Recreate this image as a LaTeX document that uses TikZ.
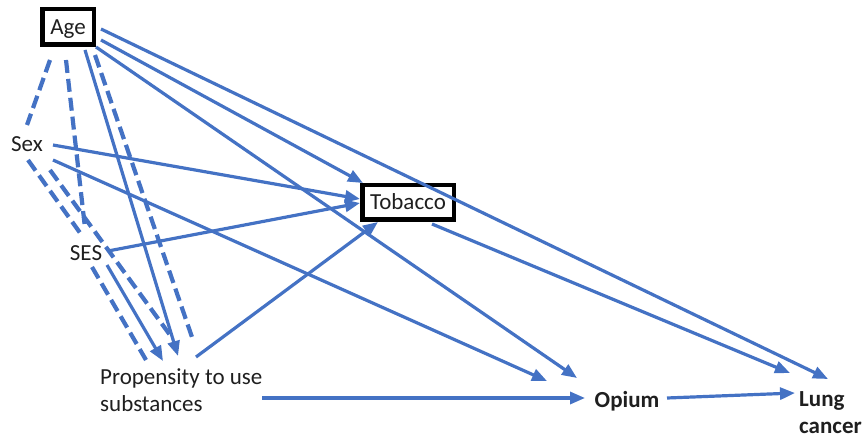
\documentclass[tikz,border=0pt]{standalone}
\usepackage{fontspec}
\setmainfont{Carlito}
\usetikzlibrary{arrows.meta}
\definecolor{linkblue}{HTML}{4472C4}
\definecolor{inktext}{HTML}{1F1F1F}
\begin{document}
\begin{tikzpicture}[x=1pt,y=-1pt,
  lbl/.style={inner sep=0pt, text=inktext, font=\fontsize{23}{27}\selectfont},
  boldlbl/.style={lbl, font=\fontsize{23}{27}\selectfont\bfseries},
  framed/.style={lbl, draw=black, line width=4.5pt, text height=15pt, text depth=0pt},
  cause/.style={draw=linkblue, line width=3.2pt, -{Triangle[length=15pt,width=12pt]}},
  assoc/.style={draw=linkblue, line width=4.2pt, dash pattern=on 13pt off 6pt}]
\useasboundingbox (0,0) rectangle (866,438);

% variables
\node[framed, minimum width=51.5pt, minimum height=35.5pt] (age) at (68,27) {Age};
\node[framed, minimum width=91.5pt, minimum height=34.5pt] (tob) at (408,202.5) {Tobacco};
\node[lbl, anchor=base] (sex) at (27,152) {Sex};
\node[lbl, anchor=base] (ses) at (86,260) {SES};
\node[lbl, anchor=north west, align=left] (prop) at (100,368) {Propensity to use\\substances};
\node[boldlbl, anchor=base] (opium) at (627,407) {Opium};
\node[boldlbl, anchor=north west, align=left] (lung) at (799,391) {Lung\\cancer};

% associations between confounders (dashed, undirected)
\draw[assoc] ([shift={(-18,33)}]age.center) -- ([shift={(0,-27)}]sex.base);
\draw[assoc] ([shift={(-2,33)}]age.center) -- ([shift={(-1,-32)}]ses.base);
\draw[assoc] ([shift={(1,8)}]sex.base) -- ([shift={(-3,-23)}]ses.base);
\draw[assoc] ([shift={(23,18)}]sex.base) -- ([shift={(70,-33)}]prop.north west);
\draw[assoc] ([shift={(6,7)}]ses.base) -- ([shift={(46,-8)}]prop.north west);
\draw[assoc] ([shift={(27,28)}]age.center) -- ([shift={(93,-28)}]prop.north west);

% causal paths
\draw[cause] ([shift={(17,23)}]age.center) -- ([shift={(78,-12)}]prop.north west);
\draw[cause] ([shift={(21,5)}]ses.base) -- ([shift={(63,-7)}]prop.north west);
\draw[cause] ([shift={(33,13)}]age.center) -- ([shift={(-45,-19.5)}]tob.center);
\draw[cause] ([shift={(28,20)}]age.center) -- ([shift={(-50,-29)}]opium.base);
\draw[cause] ([shift={(33,2)}]age.center) -- ([shift={(29,-12)}]lung.north west);
\draw[cause] ([shift={(26,-7)}]sex.base) -- ([shift={(-48,-3.5)}]tob.center);
\draw[cause] ([shift={(26,8)}]sex.base) -- ([shift={(-80,-26)}]opium.base);
\draw[cause] ([shift={(22,-9)}]ses.base) -- ([shift={(-48,0.5)}]tob.center);
\draw[cause] ([shift={(96,-11)}]prop.north west) -- ([shift={(-30,19.5)}]tob.center);
\draw[cause] ([shift={(162,30)}]prop.north west) -- ([shift={(-42,-9)}]opium.base);
\draw[cause] ([shift={(40,-9)}]opium.base) -- ([shift={(-4,2)}]lung.north west);
\draw[cause] ([shift={(24,21.5)}]tob.center) -- ([shift={(-9,-18)}]lung.north west);
\end{tikzpicture}
\end{document}
